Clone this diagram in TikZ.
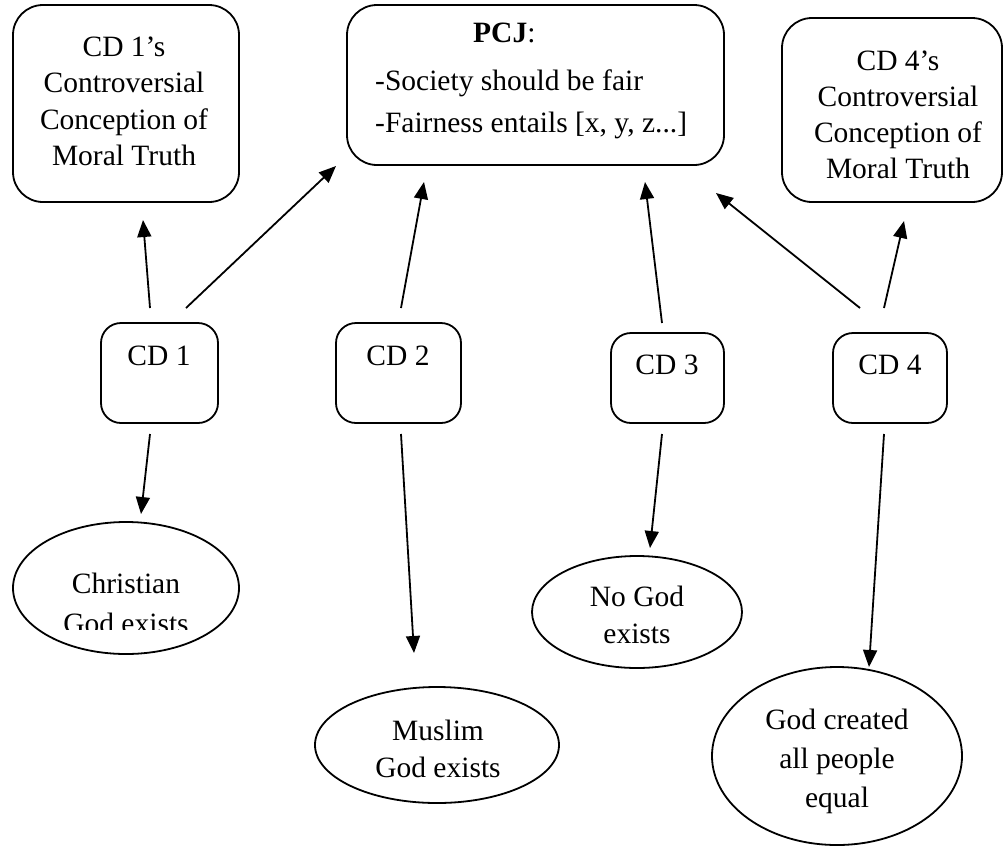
\documentclass[tikz,border=0pt]{standalone}
\usepackage{fontspec}
\setmainfont{Liberation Serif}
\usetikzlibrary{arrows.meta,shapes.geometric}
\begin{document}
\begin{tikzpicture}[x=1pt,y=-1pt,
  box/.style={draw, line width=1.8pt, rounded corners=#1, inner sep=0pt, minimum width=0pt},
  box/.default=20pt,
  oval/.style={draw, ellipse, line width=1.8pt, inner sep=0pt},
  txt/.style={inner sep=0pt, font=\fontsize{29.5pt}{36pt}\selectfont},
  arr/.style={-{Triangle[length=17pt,width=14pt]}, line width=1.8pt}]
\useasboundingbox (0,0) rectangle (1007,847);
% top boxes
\node[box=30pt, minimum width=226pt, minimum height=197pt] (cd1c) at (126,103.5) {};
\node[box=30pt, minimum width=377pt, minimum height=160pt] (pcj) at (535.5,85) {};
\node[box=30pt, minimum width=220pt, minimum height=184pt] (cd4c) at (892,110) {};
% texts of top boxes
\node[txt, anchor=base] (t1a) at (124,56) {CD 1’s};
\node[txt, anchor=base] (t1b) at (124,92.5) {Controversial};
\node[txt, anchor=base] (t1c) at (124,129) {Conception of};
\node[txt, anchor=base] (t1d) at (124,165.5) {Moral Truth};
\node[txt, anchor=base west] (p1) at (473,42) {\textbf{PCJ}:};
\node[txt, anchor=base west] (p2) at (375,90) {-Society should be fair};
\node[txt, anchor=base west] (p3) at (375,132) {-Fairness entails [x, y, z...]};
\node[txt, anchor=base] (t4a) at (898,70) {CD 4’s};
\node[txt, anchor=base] (t4b) at (898,106) {Controversial};
\node[txt, anchor=base] (t4c) at (898,142) {Conception of};
\node[txt, anchor=base] (t4d) at (898,178) {Moral Truth};
% CD boxes
\node[box=20pt, minimum width=117pt, minimum height=100pt] (cd1) at (159.5,373) {};
\node[box=20pt, minimum width=125pt, minimum height=100pt] (cd2) at (398.5,373) {};
\node[box=20pt, minimum width=113pt, minimum height=90pt] (cd3) at (667.5,378) {};
\node[box=20pt, minimum width=114pt, minimum height=90pt] (cd4) at (890,378) {};
\node[txt, anchor=base] (c1t) at (159,365) {CD 1};
\node[txt, anchor=base] (c2t) at (398,365) {CD 2};
\node[txt, anchor=base] (c3t) at (667,374) {CD 3};
\node[txt, anchor=base] (c4t) at (890,374) {CD 4};
% ellipses
\node[oval, minimum width=226pt, minimum height=132pt] (chr) at (126,588) {};
\node[oval, minimum width=244pt, minimum height=116pt] (mus) at (437,745) {};
\node[oval, minimum width=210pt, minimum height=112pt] (nog) at (637,612) {};
\node[oval, minimum width=250pt, minimum height=178pt] (eq) at (837,756) {};
\node[txt, anchor=base] (chra) at (126,593) {Christian};
\begin{scope}
\clip (0,560) rectangle (260,629);
\node[txt, anchor=base] (chrb) at (126,633) {God exists};
\end{scope}
\node[txt, anchor=base] (musa) at (438,740) {Muslim};
\node[txt, anchor=base] (musb) at (438,777) {God exists};
\node[txt, anchor=base] (noga) at (637,606) {No God};
\node[txt, anchor=base] (nogb) at (637,643) {exists};
\node[txt, anchor=base] (eqa) at (837,729) {God created};
\node[txt, anchor=base] (eqb) at (837,768) {all people};
\node[txt, anchor=base] (eqc) at (837,807) {equal};
% arrow end points
\coordinate (a1s) at (150,308); \coordinate (a1e) at (143,220);
\coordinate (a2s) at (186,308); \coordinate (a2e) at (336,166);
\coordinate (a3s) at (401,308); \coordinate (a3e) at (424,182);
\coordinate (a4s) at (662,323); \coordinate (a4e) at (645,182);
\coordinate (a5s) at (860,308); \coordinate (a5e) at (716,193);
\coordinate (a6s) at (884,308); \coordinate (a6e) at (904,221);
\coordinate (a7s) at (150,434); \coordinate (a7e) at (141,514);
\coordinate (a8s) at (401,434); \coordinate (a8e) at (414,653);
\coordinate (a9s) at (662,434); \coordinate (a9e) at (650,548);
\coordinate (a10s) at (884,434); \coordinate (a10e) at (869,667);
\foreach \i in {1,...,10} {\draw[arr] (a\i s) -- (a\i e);}
\end{tikzpicture}
\end{document}
